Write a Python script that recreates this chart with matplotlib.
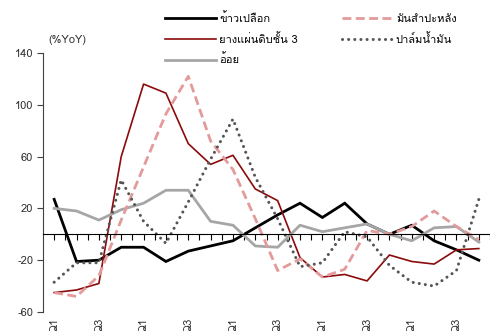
import matplotlib
matplotlib.use("Agg")
import matplotlib.pyplot as plt

plt.rcParams['font.family'] = ['Loma', 'Noto Sans Thai Looped', 'DejaVu Sans']
plt.rcParams['font.size'] = 7.5

# quarterly growth, %YoY (5 years, Q1..Q4)
quarters = list(range(20))
tick_labels = ['Q1', 'Q3'] * 5

paddy = [27, -21, -20, -10, -10, -21, -13, -9, -5, 5, 15, 24, 13, 24, 8, 0, 7, -5, -12, -20]
rubber = [-45, -43, -38, 60, 116, 109, 70, 54, 61, 35, 26, -18, -33, -31, -36, -16, -21, -23, -12, -11]
sugarcane = [20, 18, 11, 19, 24, 34, 34, 10, 7, -9, -10, 7, 2, 5, 8, 0, -5, 5, 6, -6]
cassava = [-45, -48, -32, 11, 52, 93, 122, 72, 50, 12, -28, -19, -33, -27, 3, 0, 6, 18, 6, -4]
palm_oil = [-37, -22, -22, 42, 10, -7, 25, 58, 89, 44, 12, -25, -22, 2, -2, -24, -37, -40, -28, 27]

names = ['ข้าวเปลือก', 'ยางแผ่นดิบชั้น 3', 'อ้อย', 'มันสำปะหลัง', 'ปาล์มน้ำมัน']

fig = plt.figure(figsize=(4.9, 3.31), dpi=100)
ax = fig.add_axes([43 / 490, 19 / 331, 447 / 490, 259 / 331])

l1, = ax.plot(quarters, paddy, color='black', lw=2.0, solid_joinstyle='miter')
l2, = ax.plot(quarters, rubber, color='#8B0A0A', lw=1.2)
l3, = ax.plot(quarters, sugarcane, color='#A6A6A6', lw=2.0)
l4, = ax.plot(quarters, cassava, color='#E39A9A', lw=2.0, linestyle=(0, (3.2, 1.6)))
l5, = ax.plot(quarters, palm_oil, color='#555555', lw=2.2,
              linestyle=(0, (0.01, 2.0)), dash_capstyle='round')

ax.set_ylim(-60, 140)
ax.set_yticks(range(-60, 141, 40))
ax.set_xlim(-0.5, 19.12)

# horizontal axis drawn through zero, tick labels at the bottom
for s in ['top', 'right']:
    ax.spines[s].set_visible(False)
ax.spines['left'].set_color('#404040')
ax.spines['bottom'].set_position(('data', 0))
ax.spines['bottom'].set_color('black')
ax.set_xticks([q / 2 for q in range(40)])
ax.set_xticklabels([])
ax.tick_params(axis='x', direction='out', length=4, width=0.8, color='black')
ax.tick_params(axis='y', direction='out', length=4, width=0.8, color='#404040',
               labelcolor='#333333', labelsize=8, pad=3)

sec = ax.secondary_xaxis(0)
sec.set_xticks(quarters[::2])
sec.set_xticklabels(tick_labels, rotation=90, fontsize=8, color='#333333')
sec.tick_params(length=0, pad=4)
sec.spines['bottom'].set_visible(False)

fig.text(48 / 490, 1 - 40 / 331, '(%YoY)', fontsize=8, color='#333333', va='center')

handles = [l1, l2, l3, l4, l5]
fig.legend(handles, names, ncol=2, loc='upper left',
           bbox_to_anchor=(165 / 490, 1 - 12 / 331), frameon=False,
           handlelength=4.6, handletextpad=0.3, columnspacing=3.9,
           labelspacing=0.8, fontsize=8, borderaxespad=0, borderpad=0)

fig.savefig('out.png', dpi=100)
